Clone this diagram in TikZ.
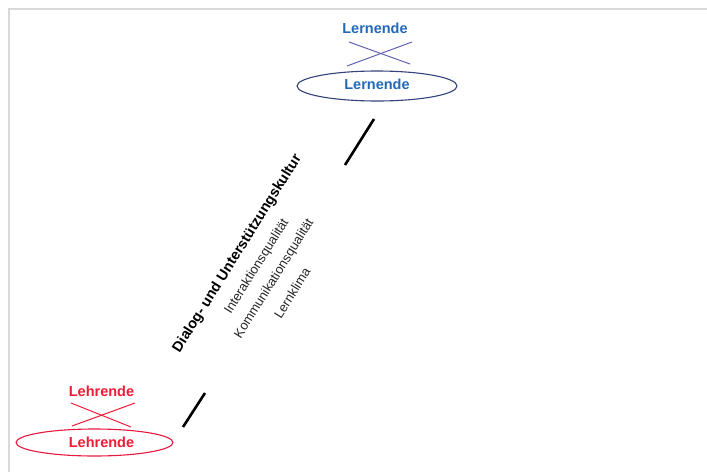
\documentclass[tikz,border=0pt]{standalone}
\usepackage{fontspec}
\setmainfont{Liberation Sans}
\usetikzlibrary{shapes.geometric}
\definecolor{learnblue}{HTML}{2469B8}
\definecolor{learnring}{HTML}{36427C}
\definecolor{crossblue}{HTML}{6262B4}
\definecolor{teachred}{HTML}{EE1C34}
\definecolor{teachring}{HTML}{E8183E}
\definecolor{frame}{HTML}{D9D9D9}
\tikzset{
  role/.style={font=\fontsize{14.5}{17}\selectfont\bfseries, inner sep=0pt},
  ring/.style={ellipse, line width=1.1pt, inner sep=0pt},
  cross/.style={line width=1pt},
  slash/.style={line width=2.6pt, black},
  headline/.style={font=\fontsize{14.5}{17}\selectfont\bfseries, rotate=58, inner sep=0pt},
  subline/.style={font=\fontsize{13}{15}\selectfont, rotate=58, inner sep=0pt, text=black!85},
}
\begin{document}
\begin{tikzpicture}[x=1pt,y=-1pt]
\useasboundingbox (0,0) rectangle (707,472);
\fill[white] (0,0) rectangle (707,472);
% frame along the top and left edges
\draw[frame, line width=2pt] (9,472) -- (9,9) -- (707,9);

% learners
\node[role, text=learnblue] (lernTop) at (375,28.5) {Lernende};
\node[ring, draw=learnring, text=learnblue, font=\fontsize{14.5}{17}\selectfont\bfseries,
      minimum width=160pt, minimum height=30pt] (lernRing) at (377,86) {\raisebox{3pt}{Lernende}};
\coordinate (lx1) at (349,42); \coordinate (lx2) at (410,64);
\coordinate (lx3) at (412,42); \coordinate (lx4) at (347,66);
\draw[cross, crossblue] (lx1) -- (lx2);
\draw[cross, crossblue] (lx3) -- (lx4);

% teachers
\node[role, text=teachred] (lehrTop) at (101.5,391) {Lehrende};
\node[ring, draw=teachring, text=teachred, font=\fontsize{14.5}{17}\selectfont\bfseries,
      minimum width=157pt, minimum height=27pt] (lehrRing) at (94.5,442.5) {\hspace*{14pt}Lehrende};
\coordinate (hx1) at (71,403); \coordinate (hx2) at (131,427);
\coordinate (hx3) at (135,403); \coordinate (hx4) at (72,426);
\draw[cross, teachred] (hx1) -- (hx2);
\draw[cross, teachred] (hx3) -- (hx4);

% dividing strokes
\coordinate (s1a) at (345,165); \coordinate (s1b) at (374,119);
\coordinate (s2a) at (183,427); \coordinate (s2b) at (205,393);
\draw[slash] (s1a) -- (s1b);
\draw[slash] (s2a) -- (s2b);

% dialogue and support culture
\node[headline] (culture) at (237.5,253.5) {Dialog- und Unterstützungskultur};
\node[subline] (inter) at (257,266.5) {Interaktionsqualität};
\node[subline] (komm) at (274.5,279) {Kommunikationsqualität};
\node[subline] (klima) at (292,293) {Lernklima};
\end{tikzpicture}
\end{document}
